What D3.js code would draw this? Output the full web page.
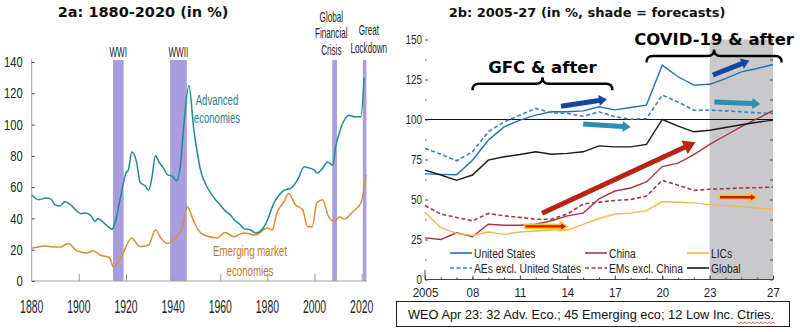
<!DOCTYPE html>
<html>
<head>
<meta charset="utf-8">
<script src="https://cdn.jsdelivr.net/npm/d3@7"></script>
<style>
  body { margin: 0; background: #fff; }
  svg { display: block; }
  .sans { font-family: "Liberation Sans", Arial, sans-serif; }
  .bold { font-family: "DejaVu Sans", Verdana, sans-serif; font-weight: bold; }
</style>
</head>
<body>
<div id="viz"></div>
<script>
// ---- 2a data (year, % of GDP)
const advanced = [[1880,55],[1883,52],[1886,53],[1888,52.5],[1890,48.6],[1892,48],[1894,50.6],[1897,48],[1899,45],[1901,43],[1903,43.5],[1905,42],[1907,38],[1908,40],[1910,38],[1913,34],[1914,33],[1915.5,38],[1918,56],[1920,69],[1921,71],[1922.5,82.5],[1924.5,76],[1926,63],[1928,61],[1929.6,58],[1931,66],[1932.5,80],[1934,76],[1936,72],[1937.5,68],[1939.6,67],[1941.4,64],[1943,73],[1944.5,99],[1946.7,125],[1948.8,96.5],[1950.5,80],[1951.6,71],[1953,64.6],[1956,56],[1958,52],[1960,48.6],[1962,45],[1964.4,42],[1966,39],[1968.6,35.8],[1970,33.5],[1972.9,32.6],[1975,30.7],[1978.6,34.7],[1980,39],[1982.8,50],[1985,55],[1987,58],[1990,59.4],[1992.8,64.6],[1995.6,73],[1997,72.5],[1999.9,71],[2001,69],[2003.4,72],[2005.5,76],[2007.7,74],[2009,86],[2011,97],[2012,101],[2014.7,106],[2016.9,105],[2019.7,105],[2021,130]];
const emerging = [[1880,21],[1882,21.5],[1885,22.4],[1888,22],[1892,21.7],[1895.6,24],[1899,19.4],[1901,18.5],[1903.4,17.9],[1906,19.4],[1909,16.6],[1913,15],[1914.7,9],[1918.3,16.6],[1922.5,27.5],[1924,25],[1926,22],[1929.6,23],[1932.5,32.6],[1935,27],[1937.4,24],[1941,27.5],[1943.8,34],[1946,47.5],[1948.8,38],[1950.5,33],[1953,29.4],[1958.7,27.5],[1962,31],[1965.8,28.3],[1970,30.7],[1975,29.4],[1980,33.9],[1982,32.6],[1984,43.4],[1987,50.7],[1989,56],[1992,48.6],[1995,45.4],[1997,34.7],[1999,34.7],[2001,50],[2003.4,52],[2006,41],[2008.4,38],[2010.5,41],[2012.6,39.6],[2016,44],[2019.7,50],[2021.8,67.8]];
const crises = [
  { label: ['WWI'], from: 1914.5, to: 1919, labelYear: 1916.7, baselines: [57] },
  { label: ['WWII'], from: 1938.7, to: 1945.8, labelYear: 1942.2, baselines: [57] },
  { label: ['Global', 'Financial', 'Crisis'], from: 2007.5, to: 2009.5, labelYear: 2007.1, baselines: [21.5, 38, 55] },
  { label: ['Great', 'Lockdown'], from: 2020.5, to: 2022, labelYear: 2023.0, baselines: [35, 53] },
];
const yTicksA = [0, 20, 40, 60, 80, 100, 120, 140];
const xTicksA = [1880, 1900, 1920, 1940, 1960, 1980, 2000, 2020];

// ---- 2b data (% of GDP)
const years = [2005,2006,2007,2008,2009,2010,2011,2012,2013,2014,2015,2016,2017,2018,2019,2020,2021,2022,2023,2024,2025,2026,2027];
const unitedStates = [66,65.7,65.5,74.5,87,95.4,99.6,102.7,104.8,104.8,105.4,108,106,107.5,109,134,126.7,121.5,122,125.6,129.8,131.9,134.4];
const aesExUS = [81.9,78.3,74.2,79.8,92.3,98.5,102.7,106.9,104.2,103.8,102,104.8,101.7,100.2,100.6,115.2,111,105.8,105.8,105.4,104.8,104.2,103.8];
const china = [26,25,29.2,26.7,34.5,33.9,33.9,34.5,36.7,39.8,41.5,50.4,55.3,57.2,61,70.6,72.7,78,84.5,90,95.5,100.5,105.5];
const emsExChina = [46.2,40.9,38.8,36.7,41.3,39.8,38.8,37.7,37.7,40.9,47.2,48.3,49.4,50,52.1,62,58.9,55.7,56.4,56.8,57.2,57.4,57.8];
const lics = [42,32.4,28.8,27.5,29.7,28.2,29.7,30.3,30.9,30.9,34.5,38.1,40.9,41.5,43,48.7,48.3,47.9,46.8,46.2,45.6,44.7,44];
const globalDebt = [68.4,65.3,62,65.3,74.6,76.7,78.1,79.8,78.3,78.8,79.8,83.5,82.9,82.9,84.4,100,95.8,92.3,93.3,95,96.7,98.3,99.6];
const forecastFrom = 2023, forecastTo = 2027;
const xTickLabelsB = [[2005,'2005'],[2008,'08'],[2011,'11'],[2014,'14'],[2017,'17'],[2020,'20'],[2023,'23'],[2027,'27']];
const yTicksB = [0, 25, 50, 75, 100, 125, 150];
const yMinorB = [12.5, 37.5, 62.5, 87.5, 112.5, 137.5];

const seriesB = [
  { name: 'United States', values: unitedStates, color: '#2070b8', dash: null, col: 0, row: 0 },
  { name: 'AEs excl. United States', values: aesExUS, color: '#3b7fc4', dash: '4,2.5', col: 0, row: 1 },
  { name: 'China', values: china, color: '#a93545', dash: null, col: 1, row: 0 },
  { name: 'EMs excl. China', values: emsExChina, color: '#a93545', dash: '4,2.5', col: 1, row: 1 },
  { name: 'LICs', values: lics, color: '#f2b94c', dash: null, col: 2, row: 0 },
  { name: 'Global', values: globalDebt, color: '#1a1a1a', dash: null, col: 2, row: 1 },
];

// annotation arrows, in (year, value)
const blueArrows = [
  { from: [2013.6, 108.3], to: [2016.5, 112.6], color: '#1446a0' },
  { from: [2015.0, 97.2], to: [2018.0, 95.3], color: '#2e8db5' },
  { from: [2023.2, 127.8], to: [2025.5, 136.8], color: '#1446a0' },
  { from: [2023.3, 111.0], to: [2026.2, 109.7], color: '#2e8db5' },
];
const redArrow = { from: [2012.4, 41.4], to: [2022.1, 85.8] };
const flatArrows = [
  { from: [2011.3, 33.2], to: [2014.0, 33.2] },
  { from: [2023.6, 51.4], to: [2026.0, 51.4] },
];
const braces = [
  { text: 'GFC & after', from: 2008.0, to: 2016.85, value: 122.3, textValue: 129 },
  { text: 'COVID-19 & after', from: 2019.0, to: 2027.55, value: 139.7, textValue: 146.5 },
];

const width = 800, height = 332;
const svg = d3.select('#viz').append('svg')
  .attr('width', width).attr('height', height);

// squeeze a text horizontally (narrow face look) with a scale about its anchor
function condense(sel, f) {
  sel.each(function () {
    const t = d3.select(this);
    const x = +t.attr('x') || 0, y = +t.attr('y') || 0;
    t.attr('x', 0).attr('y', 0).attr('transform', `translate(${x},${y}) scale(${f},1)`);
  });
}
// arrow polygon from p1 to p2 (pixels)
function arrowPath(x1, y1, x2, y2, w, hl, hw) {
  const dx = x2 - x1, dy = y2 - y1, len = Math.hypot(dx, dy);
  const ux = dx / len, uy = dy / len, nx = -uy, ny = ux;
  const bx = x2 - ux * hl, by = y2 - uy * hl;
  const pts = [
    [x1 + nx * w / 2, y1 + ny * w / 2],
    [bx + nx * w / 2, by + ny * w / 2],
    [bx + nx * hw / 2, by + ny * hw / 2],
    [x2, y2],
    [bx - nx * hw / 2, by - ny * hw / 2],
    [bx - nx * w / 2, by - ny * w / 2],
    [x1 - nx * w / 2, y1 - ny * w / 2],
  ];
  return 'M' + pts.map(p => p.join(',')).join('L') + 'Z';
}
function bracePath(x1, x2, y, h) {
  const m = (x1 + x2) / 2;
  return `M${x1},${y + h} Q${x1},${y} ${x1 + h},${y} L${m - h},${y} Q${m},${y} ${m},${y - h}` +
    ` Q${m},${y} ${m + h},${y} L${x2 - h},${y} Q${x2},${y} ${x2},${y + h}`;
}

// ================= 2a =================
const xA = d3.scaleLinear().domain([1880, 2020]).range([31.7, 361.7]);
const yA = d3.scaleLinear().domain([0, 140]).range([281, 62]);
const gA = svg.append('g');

gA.append('text').attr('class', 'bold').attr('x', 143).attr('y', 17).attr('text-anchor', 'middle')
  .attr('font-size', 14.5).attr('fill', '#111')
  .text('2a: 1880-2020 (in %)');

gA.selectAll('rect.crisis').data(crises).join('rect').attr('class', 'crisis')
  .attr('x', d => xA(d.from)).attr('width', d => xA(d.to) - xA(d.from))
  .attr('y', 60).attr('height', d => yA(0) - 60)
  .attr('fill', '#a99de2');

crises.forEach(d => {
  gA.selectAll(null).data(d.label).join('text').attr('class', 'sans')
    .attr('text-anchor', 'middle').attr('font-size', 14).attr('fill', '#222')
    .attr('x', xA(d.labelYear)).attr('y', (t, j) => d.baselines[j]).text(t => t)
    .call(condense, 0.58);
});

// axes
gA.append('line').attr('x1', xA(1880)).attr('x2', xA(1880)).attr('y1', yA(140) - 3).attr('y2', yA(0))
  .attr('stroke', '#a0a0a0');
gA.append('line').attr('x1', xA(1880)).attr('x2', xA(2022.2)).attr('y1', yA(0)).attr('y2', yA(0))
  .attr('stroke', '#a0a0a0');
const yAxA = gA.append('g').attr('transform', `translate(${xA(1880)},0)`)
  .call(d3.axisLeft(yA).tickValues(yTicksA).tickSize(-3).tickPadding(9));
yAxA.select('.domain').remove();
yAxA.selectAll('line').attr('stroke', '#444');
yAxA.selectAll('text').attr('class', 'sans').attr('font-size', 14.5).attr('fill', '#222')
  .call(condense, 0.77);
const xAxA = gA.append('g').attr('transform', `translate(0,${yA(0)})`)
  .call(d3.axisTop(xA).tickValues(xTicksA.slice(1)).tickFormat(d3.format('d')).tickSize(7));
xAxA.select('.domain').remove();
xAxA.selectAll('line').attr('stroke', '#999');
xAxA.selectAll('text').remove();
gA.selectAll('text.xlab').data(xTicksA).join('text').attr('class', 'sans xlab')
  .attr('x', d => xA(d)).attr('y', 313).attr('text-anchor', 'middle')
  .attr('font-size', 18).attr('fill', '#222').text(d => d)
  .call(condense, 0.58);

const lineA = d3.line().x(d => xA(d[0])).y(d => yA(d[1])).curve(d3.curveMonotoneX);
gA.append('path').datum(emerging).attr('d', lineA)
  .attr('fill', 'none').attr('stroke', '#dc8d34').attr('stroke-width', 1.5);
gA.append('path').datum(advanced).attr('d', lineA)
  .attr('fill', 'none').attr('stroke', '#1f8a90').attr('stroke-width', 1.5);

gA.selectAll(null).data(['Advanced', 'economies']).join('text').attr('class', 'sans')
  .attr('text-anchor', 'middle').attr('font-size', 14.5).attr('fill', '#1f7f88')
  .attr('x', xA(1958.6)).attr('y', (d, i) => yA(112.5) + i * 18).text(d => d)
  .call(condense, 0.66);
gA.selectAll(null).data(['Emerging market', 'economies']).join('text').attr('class', 'sans')
  .attr('text-anchor', 'middle').attr('font-size', 14.5).attr('fill', '#c27a1c')
  .attr('x', xA(1972.6)).attr('y', (d, i) => yA(16) + i * 20).text(d => d)
  .call(condense, 0.67);

// ================= 2b =================
const xB = d3.scaleLinear().domain([2005, 2027]).range([425, 773]);
const yB = d3.scaleLinear().domain([0, 150]).range([279.5, 39.5]);
const gB = svg.append('g');

gB.append('text').attr('class', 'bold').attr('x', 587).attr('y', 17).attr('text-anchor', 'middle')
  .attr('font-size', 13).attr('fill', '#111')
  .text('2b: 2005-27 (in %, shade = forecasts)');

gB.append('rect').attr('x', xB(forecastFrom)).attr('width', xB(forecastTo) - xB(forecastFrom))
  .attr('y', yB(150)).attr('height', yB(0) - yB(150)).attr('fill', '#c9c9cb');

// y axis left (major + minor), right inner ticks
const yAxB = gB.append('g').attr('transform', `translate(${xB(2005)},0)`)
  .call(d3.axisLeft(yB).tickValues(yTicksB).tickSize(-3).tickPadding(3));
yAxB.select('.domain').remove();
yAxB.selectAll('line').attr('stroke', '#444');
yAxB.selectAll('text').attr('class', 'sans').attr('font-size', 12).attr('fill', '#222')
  .call(condense, 0.82);
gB.append('g').attr('transform', `translate(${xB(2005)},0)`)
  .call(d3.axisLeft(yB).tickValues(yMinorB).tickSize(-1.5).tickFormat(''))
  .call(g => g.select('.domain').remove())
  .selectAll('line').attr('stroke', '#444');
gB.append('g').attr('transform', `translate(${xB(2027)},0)`)
  .call(d3.axisLeft(yB).tickValues(yTicksB.concat(yMinorB)).tickSize(3).tickFormat(''))
  .call(g => g.select('.domain').remove())
  .selectAll('line').attr('stroke', '#444');
gB.append('line').attr('x1', xB(2005)).attr('x2', xB(2005)).attr('y1', yB(6)).attr('y2', yB(0))
  .attr('stroke', '#444');

// x axis
gB.append('line').attr('x1', xB(2005)).attr('x2', xB(2027)).attr('y1', yB(0)).attr('y2', yB(0))
  .attr('stroke', '#444');
gB.append('g').attr('transform', `translate(0,${yB(0)})`)
  .call(d3.axisTop(xB).tickValues(years).tickSize(2).tickFormat(''))
  .call(g => g.select('.domain').remove())
  .selectAll('line').attr('stroke', '#444');
const xAxB = gB.append('g').attr('transform', `translate(0,${yB(0)})`)
  .call(d3.axisTop(xB).tickValues(xTickLabelsB.map(d => d[0]))
    .tickFormat((d, i) => xTickLabelsB[i][1]).tickSize(4));
xAxB.select('.domain').remove();
xAxB.selectAll('line').attr('stroke', '#444');
xAxB.selectAll('text').attr('class', 'sans').attr('font-size', 12.5).attr('fill', '#222').attr('y', 17.5)
  .call(condense, 0.92);

// 100 reference line
gB.append('line').attr('x1', xB(2005)).attr('x2', xB(2027)).attr('y1', yB(100)).attr('y2', yB(100))
  .attr('stroke', '#111').attr('stroke-width', 1);

const lineB = d3.line().x((d, i) => xB(years[i])).y(d => yB(d));
gB.selectAll('path.series').data(seriesB).join('path').attr('class', 'series')
  .attr('d', d => lineB(d.values))
  .attr('fill', 'none').attr('stroke', d => d.color).attr('stroke-width', d => d.dash ? 1.6 : 1.4)
  .attr('stroke-dasharray', d => d.dash);

// legend
const legCols = [450, 585, 687], legRows = [253, 268];
const leg = gB.selectAll('g.leg').data(seriesB).join('g').attr('class', 'leg')
  .attr('transform', d => `translate(${legCols[d.col]},${legRows[d.row]})`);
leg.append('line').attr('x1', 0).attr('x2', 22).attr('y1', 0).attr('y2', 0)
  .attr('stroke', d => d.color).attr('stroke-width', 1.6).attr('stroke-dasharray', d => d.dash);
leg.append('text').attr('class', 'sans').attr('x', 24).attr('y', 5).attr('font-size', 13.5)
  .attr('fill', '#222').text(d => d.name)
  .call(condense, 0.76);

// braces & labels
braces.forEach(b => {
  gB.append('path').attr('d', bracePath(xB(b.from), xB(b.to), yB(b.value), 6.5))
    .attr('fill', 'none').attr('stroke', '#000').attr('stroke-width', 2.4);
  gB.append('text').attr('class', 'bold').attr('x', (xB(b.from) + xB(b.to)) / 2).attr('y', yB(b.textValue))
    .attr('text-anchor', 'middle').attr('font-size', 16.5).attr('fill', '#000').text(b.text);
});

// arrows
gB.selectAll('path.blue').data(blueArrows).join('path').attr('class', 'blue')
  .attr('d', d => arrowPath(xB(d.from[0]), yB(d.from[1]), xB(d.to[0]), yB(d.to[1]), 5, 8, 11))
  .attr('fill', d => d.color);
gB.append('path')
  .attr('d', arrowPath(xB(redArrow.from[0]), yB(redArrow.from[1]), xB(redArrow.to[0]), yB(redArrow.to[1]), 5, 12, 15))
  .attr('fill', '#b82412');
gB.selectAll('path.flat').data(flatArrows).join('path').attr('class', 'flat')
  .attr('d', d => arrowPath(xB(d.from[0]), yB(d.from[1]), xB(d.to[0]), yB(d.to[1]), 4, 7, 9))
  .attr('fill', '#c8160c').attr('stroke', '#ffc21a').attr('stroke-width', 1.6)
  .attr('stroke-linejoin', 'miter');

// note box
const note = 'WEO Apr 23: 32 Adv. Eco.; 45 Emerging eco; 12 Low Inc. Ctries.';
gB.append('rect').attr('x', 396.5).attr('y', 301.5).attr('width', 393).attr('height', 25)
  .attr('fill', '#fff').attr('stroke', '#222').attr('stroke-width', 1);
const noteText = gB.append('text').attr('class', 'sans').attr('x', 408).attr('y', 319)
  .attr('font-size', 12.8).attr('fill', '#111')
  .text(note);
const word = 'Ctries.';
const start = note.indexOf(word);
const tn = noteText.node();
const wx0 = 408 + tn.getSubStringLength(0, start);
const wx1 = wx0 + tn.getSubStringLength(start, word.length);
let zig = `M${wx0},322`;
for (let x = wx0, k = 0; x < wx1; x += 2, k++) zig += ` L${x + 2},${k % 2 ? 322 : 323.6}`;
gB.append('path').attr('d', zig).attr('fill', 'none').attr('stroke', '#e03030').attr('stroke-width', 0.8);
</script>
</body>
</html>
